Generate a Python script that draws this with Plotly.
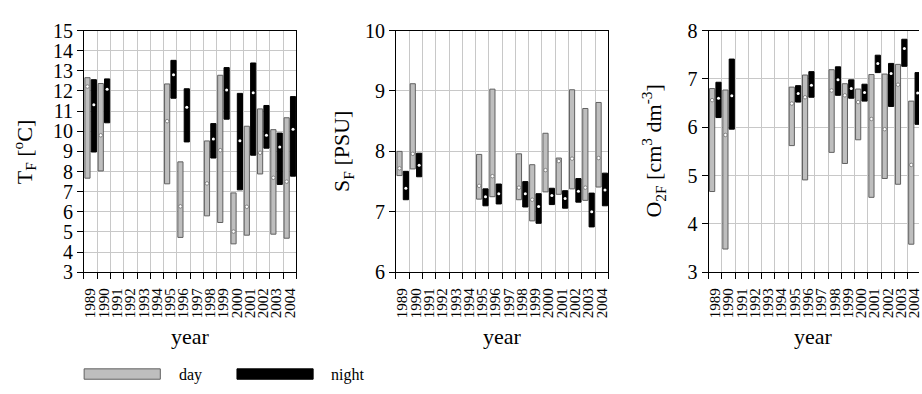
import plotly.graph_objects as go

years = list(range(1989, 2005))
year_labels = [str(y) for y in years]

# T_F [°C]
t_day_lo   = [7.67, 8.03, None, None, None, None, 7.39, 4.73, None, 5.80, 5.47, 4.41, 4.84, 7.88, 4.89, 4.69]
t_day_hi   = [12.66, 12.37, None, None, None, None, 12.35, 8.48, None, 9.52, 12.78, 6.94, 10.25, 11.11, 10.08, 10.67]
t_day_mn   = [12.22, 9.80, None, None, None, None, 10.50, 6.27, None, 7.41, 9.06, 5.02, 6.25, 8.93, 7.69, 7.50]
t_ngt_lo   = [8.97, 10.42, None, None, None, None, 11.64, 9.47, None, 8.67, 10.60, 7.09, 8.81, 9.16, 7.36, 7.77]
t_ngt_hi   = [12.56, 12.60, None, None, None, None, 13.52, 12.11, None, 10.38, 13.16, 11.88, 13.39, 11.28, 9.91, 11.72]
t_ngt_mn   = [11.31, 12.09, None, None, None, None, 12.81, 11.19, None, 9.61, 12.05, 9.53, 11.91, 9.80, 9.22, 10.10]

# S_F [PSU]
s_day_lo   = [7.60, 7.71, None, None, None, None, 7.21, 7.25, None, 7.20, 6.85, 7.33, 7.29, 7.38, 7.19, 7.41]
s_day_hi   = [8.00, 9.12, None, None, None, None, 7.95, 9.03, None, 7.96, 7.78, 8.30, 7.89, 9.02, 8.71, 8.81]
s_day_mn   = [7.72, 7.96, None, None, None, None, 7.43, 7.59, None, 7.40, 7.20, 7.69, 7.84, 7.88, 7.40, 7.89]
s_ngt_lo   = [7.20, 7.58, None, None, None, None, 7.10, 7.13, None, 7.08, 6.81, 7.12, 7.06, 7.16, 6.75, 7.10]
s_ngt_hi   = [7.67, 7.97, None, None, None, None, 7.38, 7.46, None, 7.50, 7.30, 7.39, 7.35, 7.55, 7.31, 7.64]
s_ngt_mn   = [7.39, 7.77, None, None, None, None, 7.25, 7.30, None, 7.30, 7.09, 7.27, 7.22, 7.34, 7.00, 7.36]

# O2F [cm3 dm-3]
o_day_lo   = [4.67, 3.48, None, None, None, None, 5.62, 4.91, None, 5.48, 5.25, 5.74, 4.55, 4.94, 4.82, 3.58]
o_day_hi   = [6.80, 6.77, None, None, None, None, 6.83, 7.08, None, 7.19, 6.90, 6.79, 7.09, 7.10, 7.30, 6.54]
o_day_mn   = [6.56, 5.84, None, None, None, None, 6.49, 6.62, None, 6.76, 6.66, 6.52, 6.17, 5.96, 6.88, 5.22]
o_ngt_lo   = [6.20, 5.96, None, None, None, None, 6.52, 6.62, None, 6.66, 6.60, 6.54, 7.13, 6.43, 7.26, 6.06]
o_ngt_hi   = [6.93, 7.41, None, None, None, None, 6.86, 7.15, None, 7.25, 6.98, 6.89, 7.49, 7.32, 7.82, 7.13]
o_ngt_mn   = [6.60, 6.65, None, None, None, None, 6.70, 6.87, None, 6.98, 6.80, 6.72, 7.32, 7.11, 7.63, 6.71]

W, H = 922, 394
FONT = "Liberation Serif, Times New Roman, serif"
GRID = "#c8c8c8"
DAY_FILL = "#bebebe"
DAY_LINE = "#606060"

BAR_W = 0.39
DAY_OFF = -0.43
NGT_OFF = 0.05

fig = go.Figure()

def px_x(v):
    return v / W

def px_y(v):
    return 1 - v / H

panels = [
    dict(lo_d=t_day_lo, hi_d=t_day_hi, mn_d=t_day_mn, lo_n=t_ngt_lo, hi_n=t_ngt_hi, mn_n=t_ngt_mn,
         yr=[3, 15], dom=[83.3, 296.7], xr=[1988.5, 2004.5], title="T<sub>F</sub> [<sup>o</sup>C]", tx=23),
    dict(lo_d=s_day_lo, hi_d=s_day_hi, mn_d=s_day_mn, lo_n=s_ngt_lo, hi_n=s_ngt_hi, mn_n=s_ngt_mn,
         yr=[6, 10], dom=[396.7, 610.0], xr=[1988.5, 2004.5], title="S<sub>F</sub> [PSU]", tx=344),
    dict(lo_d=o_day_lo, hi_d=o_day_hi, mn_d=o_day_mn, lo_n=o_ngt_lo, hi_n=o_ngt_hi, mn_n=o_ngt_mn,
         yr=[3, 8], dom=[710.7, 922.0], xr=[1988.5, 1988.5 + (922.0 - 710.7) / 13.333],
         title="O<sub>2F</sub> [cm<sup>3</sup> dm<sup>-3</sup>]", tx=655),
]

Y_TOP, Y_BOT = 20.7, 276.7
annotations = []

for i, p in enumerate(panels):
    n = "" if i == 0 else str(i + 1)
    xa, ya = "x" + n, "y" + n
    for lo, hi, mn, off, fill, line, dotline in [
        (p["lo_d"], p["hi_d"], p["mn_d"], DAY_OFF, DAY_FILL, DAY_LINE, "#707070"),
        (p["lo_n"], p["hi_n"], p["mn_n"], NGT_OFF, "black", "black", "white"),
    ]:
        xs = [y for y, l in zip(years, lo) if l is not None]
        los = [l for l in lo if l is not None]
        his = [h for h in hi if h is not None]
        mns = [m for m in mn if m is not None]
        fig.add_trace(go.Bar(
            x=xs, y=[h - l for h, l in zip(his, los)], base=los,
            width=BAR_W, offset=off,
            marker=dict(color=fill, line=dict(color=line, width=1)),
            xaxis=xa, yaxis=ya, showlegend=False, hoverinfo="skip"))
        fig.add_trace(go.Scatter(
            x=[x + off + BAR_W / 2 for x in xs], y=mns, mode="markers",
            marker=dict(size=3.5 if fill != "black" else 3, color="white",
                        line=dict(color=dotline, width=0.8 if fill != "black" else 0)),
            xaxis=xa, yaxis=ya, showlegend=False, hoverinfo="skip"))

    xkey = "xaxis" + n
    ykey = "yaxis" + n
    fig.update_layout(**{
        xkey: dict(
            domain=[px_x(p["dom"][0]), px_x(p["dom"][1])],
            range=p["xr"], anchor=ya,
            tickmode="array", tickvals=years, ticktext=year_labels,
            ticks="outside", ticklen=9, tickcolor="rgba(0,0,0,0)",
            tickangle=-90, tickfont=dict(family=FONT, size=15, color="black"),
            ticklabeloverflow="allow",
            showgrid=False, zeroline=False,
            showline=True, linecolor="black", linewidth=1, mirror=True,
            minor=dict(tick0=0.5, dtick=1, ticks="outside", ticklen=6, tickcolor="black",
                       tickwidth=1, showgrid=True, gridcolor=GRID, gridwidth=1),
        ),
        ykey: dict(
            domain=[px_y(Y_BOT), px_y(Y_TOP)],
            range=p["yr"], anchor=xa,
            tickmode="linear", tick0=0, dtick=1,
            ticks="outside", ticklen=6, tickcolor="black",
            tickfont=dict(family=FONT, size=20, color="black"),
            showgrid=True, gridcolor=GRID, gridwidth=1, zeroline=False,
            showline=True, linecolor="black", linewidth=1, mirror=(i < 2),
        ),
    })
    annotations.append(dict(
        text=p["title"], x=px_x(p["tx"]), y=px_y((Y_TOP + Y_BOT) / 2),
        xref="paper", yref="paper", showarrow=False, textangle=-90,
        xanchor="center", yanchor="middle",
        font=dict(family=FONT, size=22, color="black")))
    annotations.append(dict(
        text="year", x=px_x((p["dom"][0] + min(p["dom"][1], p["dom"][0] + 213.3)) / 2),
        y=px_y(345), xref="paper", yref="paper", showarrow=False,
        xanchor="center", yanchor="middle",
        font=dict(family=FONT, size=22, color="black")))

# legend
shapes = [
    dict(type="rect", xref="paper", yref="paper", x0=px_x(83.5), x1=px_x(160), y0=px_y(390), y1=px_y(379),
         fillcolor=DAY_FILL, line=dict(color=DAY_LINE, width=1)),
    dict(type="rect", xref="paper", yref="paper", x0=px_x(237), x1=px_x(313.5), y0=px_y(390), y1=px_y(379),
         fillcolor="black", line=dict(color="black", width=1)),
]
annotations.append(dict(text="day", x=px_x(177), y=px_y(385), xref="paper", yref="paper",
                        showarrow=False, xanchor="left", yanchor="middle",
                        font=dict(family=FONT, size=16, color="black")))
annotations.append(dict(text="night", x=px_x(329), y=px_y(385), xref="paper", yref="paper",
                        showarrow=False, xanchor="left", yanchor="middle",
                        font=dict(family=FONT, size=16, color="black")))

fig.update_layout(
    width=W, height=H, margin=dict(l=0, r=0, t=0, b=0),
    paper_bgcolor="white", plot_bgcolor="white",
    barmode="overlay", showlegend=False,
    annotations=annotations, shapes=shapes,
    font=dict(family=FONT, color="black"),
)

fig.write_html("out.html")
